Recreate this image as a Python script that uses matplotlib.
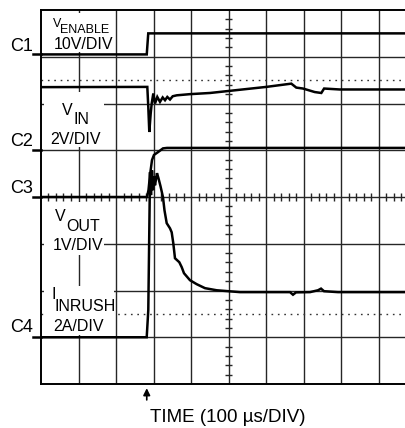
import matplotlib
matplotlib.use("Agg")
import matplotlib.pyplot as plt
from matplotlib.patches import Rectangle
from matplotlib.transforms import Affine2D
import numpy as np

W, H = 406, 428

# scope screen: 100 us/div, 10 div wide (right edge cropped), 8 div tall
t_enable = [0, 282, 286, 1000]
v_enable = [0, 0, 4.5, 4.5]

t_vin = [0, 283.5, 286.1, 288.8, 292.5, 295.2, 299.5, 304, 310.1, 317.3,
         324.5, 330.7, 336.8, 344, 351.2, 361.9, 397.3, 450.7, 600.8, 667.5,
         680.8, 698.7, 729.9, 747.5, 754.9, 796.5, 1000]
v_vin = [2.70, 2.71, 1.85, 0.78, 1.57, 2.00, 2.43, 2.00, 2.28, 2.07,
         2.26, 2.14, 2.28, 2.17, 2.31, 2.35, 2.40, 2.45, 2.71, 2.85,
         2.68, 2.64, 2.49, 2.45, 2.64, 2.60, 2.60]

t_vout = [0, 282.7, 286.7, 290.7, 296, 301.3, 312, 325.3, 336, 357.3, 1000]
v_vout = [0, 0, 0.15, 0.47, 0.79, 0.90, 0.96, 1.04, 1.05, 1.05, 1.05]

t_inrush = [0, 281.9, 286.1, 289.3, 290.7, 293.3, 296.0, 298.7, 301.3, 304.0,
            309.3, 313.3, 318.7, 325.3, 329.3, 335.2, 344.0, 348.5, 352.8, 357.3,
            368.8, 375.2, 381.3, 397.3, 415.2, 437.3, 468.5, 530.7, 664.0, 672.0,
            680.0, 717.3, 738.7, 746.7, 754.7, 792.0, 1000]
i_inrush = [0, 0, 1.16, 5.22, 7.06, 6.08, 7.14, 6.29, 6.89, 6.50,
            7.02, 6.80, 6.46, 5.99, 5.43, 4.88, 4.66, 4.49, 4.02, 3.38,
            3.21, 3.00, 2.74, 2.44, 2.27, 2.10, 2.01, 1.93, 1.93, 1.82,
            1.92, 1.93, 2.01, 2.08, 1.97, 1.93, 1.93]

# channel ground level (div from bottom) and units per div
channels = [
    ("C1", t_enable, v_enable, 7.05, 10),
    ("C2", t_vin, v_vin, 5.0, 2),
    ("C3", t_vout, v_vout, 4.0, 1),
    ("C4", t_inrush, i_inrush, 1.0, 2),
]
trigger_us = 282

fig = plt.figure(figsize=(W / 100, H / 100), dpi=100)
ax = fig.add_axes([41 / W, 44 / H, 375 / W, 374 / H])
ax.set_xlim(0, 1000)
ax.set_ylim(0, 8)
ax.set_xticks([])
ax.set_yticks([])
for s in ax.spines.values():
    s.set_linewidth(1.4)
    s.set_color("black")

# graticule
gcol = "#262626"
for i in range(1, 10):
    ax.axvline(i * 100, color=gcol, lw=1.0, zorder=1)
for j in range(1, 8):
    ax.axhline(j, color=gcol, lw=1.0, zorder=1)
minor_x = [x for x in np.arange(20, 1000, 20) if x % 100 != 0]
ax.vlines(minor_x, 4 - 0.08, 4 + 0.08, color=gcol, lw=1.0, zorder=1)
minor_y = [y for y in np.arange(0.2, 8, 0.2) if abs(y - round(y)) > 0.01]
ax.hlines(minor_y, 500 - 10, 500 + 10, color=gcol, lw=1.0, zorder=1)
for y in (6.5, 1.5):
    ax.axhline(y, color="#333333", lw=1.0, ls=(0, (1.2, 3.4)), zorder=1)

# reference-pixel transform for labels
pix = Affine2D().scale(1 / W, -1 / H).translate(0, 1) + fig.transFigure

for x0, y0, x1, y1 in [(44, 13, 108, 52), (44, 92, 104, 147),
                       (44, 202, 104, 255), (44, 286, 114, 335)]:
    fig.patches.append(Rectangle((x0, y0), x1 - x0, y1 - y0, transform=pix,
                                 facecolor="white", edgecolor="none", zorder=2))

# traces and ground markers
for name, t, v, gnd, scale in channels:
    ax.plot(t, [gnd + val / scale for val in v], color="black", lw=1.8,
            solid_joinstyle="miter", zorder=4)
    ax.plot([-21, 0], [gnd, gnd], color="black", lw=1.8, clip_on=False, zorder=4)

narrow = ["Liberation Sans Narrow", "Liberation Sans"]
labels = [
    ("V", 53, 27, 9), ("ENABLE", 60, 33, 9), ("10V/DIV", 54, 49, 11.5),
    ("V", 62, 115, 11.5), ("IN", 74, 124, 11.5), ("2V/DIV", 50, 144, 11.5),
    ("V", 55, 221, 11.5), ("OUT", 66, 231, 11.5), ("1V/DIV", 53, 250, 11.5),
    ("I", 52, 299, 11.5), ("INRUSH", 55, 311, 11.5), ("2A/DIV", 53, 331, 11.5),
]
for s, x, y, fs in labels:
    fig.text(x, y, s, transform=pix, family=narrow, fontsize=fs,
             ha="left", va="baseline", zorder=5)

for name, y in [("C1", 51), ("C2", 146), ("C3", 193), ("C4", 332)]:
    fig.text(10, y, name, transform=pix, family="Liberation Sans", fontsize=13,
             ha="left", va="baseline")

ax.annotate("", xy=(trigger_us, -0.09), xytext=(trigger_us, -0.34),
            arrowprops=dict(arrowstyle="-|>", color="black", lw=1.2,
                            mutation_scale=10, shrinkA=0, shrinkB=0),
            annotation_clip=False)
fig.text(150, 422, "TIME (100 \u00b5s/DIV)", transform=pix,
         family="Liberation Sans", fontsize=13.5, ha="left", va="baseline")

fig.savefig("out.png", dpi=100, facecolor="white")
